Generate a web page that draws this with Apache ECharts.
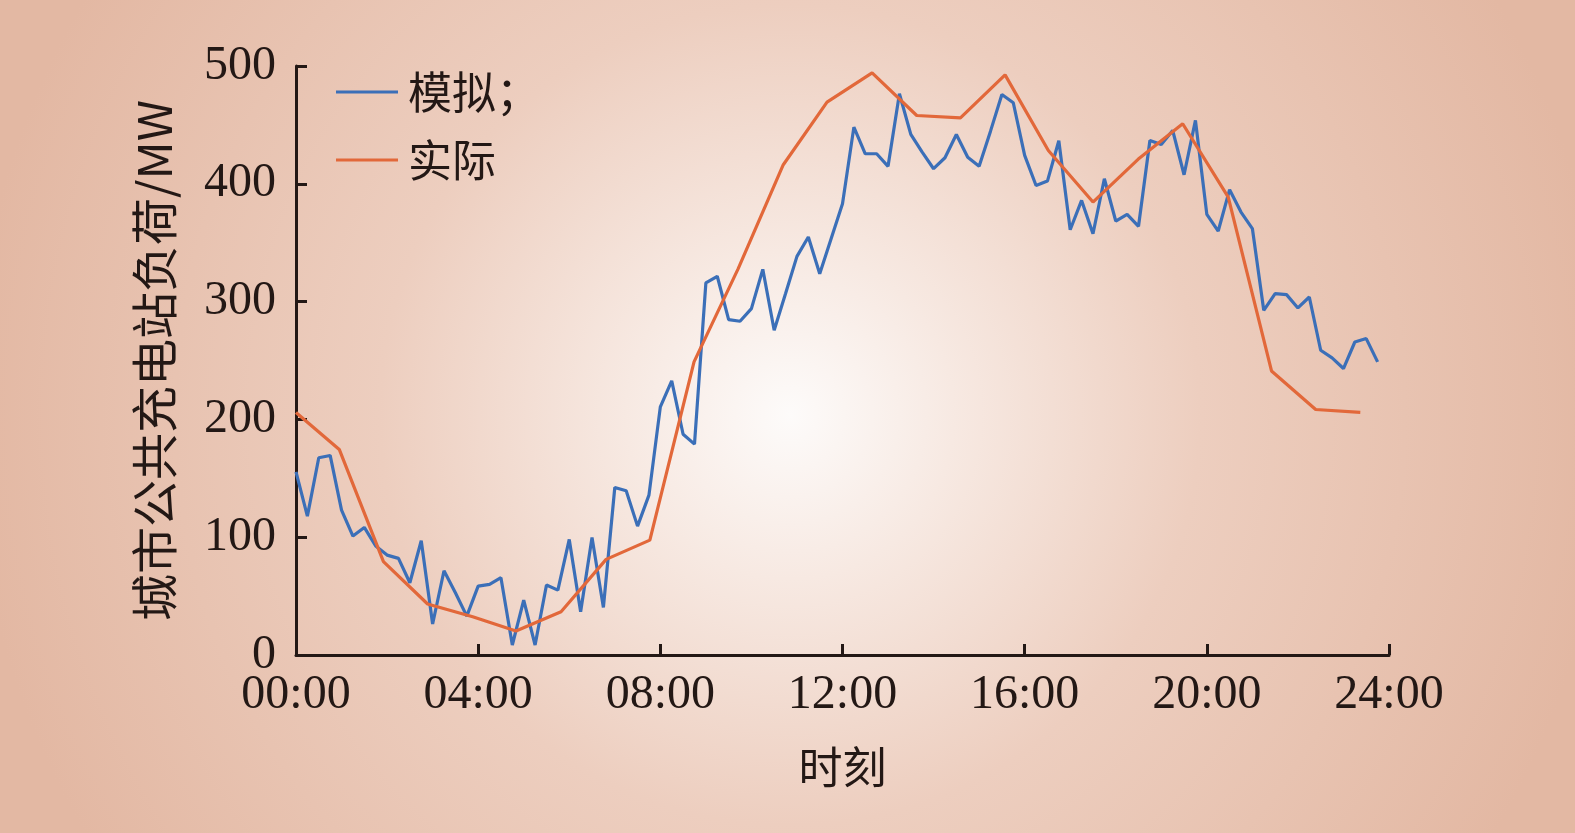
<!DOCTYPE html>
<html>
<head>
<meta charset="utf-8">
<script src="https://cdn.jsdelivr.net/npm/echarts@6/dist/echarts.min.js"></script>
<style>
html,body{margin:0;padding:0;width:1575px;height:833px;overflow:hidden;}
#chart{width:1575px;height:833px;background:radial-gradient(circle 820px at 790px 415px,#fdfbfa 0%,#f7e9e2 20%,#edcebf 50%,#e3b8a3 100%);}
</style>
</head>
<body>
<div id="chart"></div>
<script>
// X-axis tick labels (hours 0..24 every 4h)
const xTickLabels = ['00:00','04:00','08:00','12:00','16:00','20:00','24:00'];
const yTickLabels = ['0','100','200','300','400','500'];
const seriesNames = ['模拟；','实际'];

// 模拟 (simulated) load, 15-min steps starting 00:00
const simTimes = [
 0,0.25,0.5,0.75,1,1.25,1.5,1.75,2,2.25,2.5,2.75,3,3.25,3.5,3.75,
 4,4.25,4.5,4.75,5,5.25,5.5,5.75,6,6.25,6.5,6.75,7,7.25,7.5,7.75,
 8,8.25,8.5,8.75,9,9.25,9.5,9.75,10,10.25,10.5,10.75,11,11.25,11.5,11.75,
 12,12.25,12.5,12.75,13,13.25,13.5,13.75,14,14.25,14.5,14.75,15,15.25,15.5,15.75,
 16,16.25,16.5,16.75,17,17.25,17.5,17.75,18,18.25,18.5,18.75,19,19.25,19.5,19.75,
 20,20.25,20.5,20.75,21,21.25,21.5,21.75,22,22.25,22.5,22.75,23,23.25,23.5,23.75];
const simValues = [
 155.5,117.9,167.4,169.4,123,101,108.3,92.5,84.8,82,61.3,97,26.3,71.5,52.8,33,
 58.5,60,65.6,8.5,46.6,8.5,59.4,55.1,98.1,36.7,99.8,40.4,142.2,139.4,109.4,135.7,
 210.6,232.7,187.4,179,315.8,321.5,284.7,283.3,294,327.4,275.7,306.8,338.4,354.8,323.7,353.4,
 383.1,448.1,425.5,425.5,414.8,476.4,441.9,426.9,412.8,422.1,441.9,422.6,414.8,444.7,475.8,468.8,
 424.1,398.6,402.3,436.5,361,385.9,357.6,404.3,368.4,374,363.9,436.8,433.4,445.3,407.7,453.8,
 374,359.9,395,376,362,292.6,306.8,305.9,294.6,303.9,258.7,252.2,243.2,265.7,268.6,248.8];

// 实际 (actual) load
const actTimes = [0,0.95,1.92,2.89,3.88,4.83,5.82,6.81,7.77,8.74,9.71,10.70,11.66,12.65,13.63,14.59,15.57,16.52,17.50,18.49,19.47,20.47,21.42,22.39,23.37];
const actValues = [205.8,174.5,79.2,43.3,32.4,20.4,36.7,81.2,97.5,248.8,328,416.2,469.3,494.2,458,456,492.5,428.3,384.5,420.8,451,388.7,241.1,208.4,205.9];

const blue = '#3b6fb8';
const orange = '#e2683a';
const axisColor = '#231815';
const serif = '"Liberation Serif","Times New Roman",serif';
const cjk = '"Noto Sans CJK SC","Noto Sans",sans-serif';

const chart = echarts.init(document.getElementById('chart'), null, {renderer:'canvas'});
const option = {
  backgroundColor: 'transparent',
  animation: false,
  grid: {left: 296, right: 186, top: 66, bottom: 178, containLabel: false},
  legend: {
    orient: 'vertical', left: 336, top: 68, padding: 0,
    icon: 'rect', itemWidth: 62, itemHeight: 3, itemGap: 20,
    textStyle: {fontFamily: cjk, fontSize: 44, color: '#231815', lineHeight: 48, padding: [0,0,0,5]},
    data: seriesNames
  },
  xAxis: {
    type: 'value', min: 0, max: 24, interval: 4,
    name: '时刻', nameLocation: 'middle', nameGap: 90,
    nameTextStyle: {fontFamily: cjk, fontSize: 44, color: '#231815'},
    axisLine: {show: true, lineStyle: {color: axisColor, width: 3}},
    axisTick: {show: true, inside: true, length: 11, lineStyle: {color: axisColor, width: 3}},
    splitLine: {show: false},
    axisLabel: {
      fontFamily: serif, fontSize: 48, color: '#231815', margin: 16,
      formatter: v => xTickLabels[Math.round(v / 4)]
    }
  },
  yAxis: {
    type: 'value', min: 0, max: 500, interval: 100,
    name: '城市公共充电站负荷/MW', nameLocation: 'middle', nameGap: 118, nameRotate: 90,
    nameTextStyle: {fontFamily: cjk, fontSize: 47, color: '#231815'},
    axisLine: {show: true, lineStyle: {color: axisColor, width: 3}},
    axisTick: {show: true, inside: true, length: 11, lineStyle: {color: axisColor, width: 3}},
    splitLine: {show: false},
    axisLabel: {
      fontFamily: serif, fontSize: 48, color: '#231815', margin: 20,
      formatter: v => yTickLabels[Math.round(v / 100)]
    }
  },
  series: [
    {
      name: seriesNames[0], type: 'line', showSymbol: false, symbol: 'none',
      data: simTimes.map((t, i) => [t, simValues[i]]),
      lineStyle: {color: blue, width: 3.2}, itemStyle: {color: blue}, z: 2
    },
    {
      name: seriesNames[1], type: 'line', showSymbol: false, symbol: 'none',
      data: actTimes.map((t, i) => [t, actValues[i]]),
      lineStyle: {color: orange, width: 3.2}, itemStyle: {color: orange}, z: 3
    }
  ]
};
chart.setOption(option);
</script>
</body>
</html>
